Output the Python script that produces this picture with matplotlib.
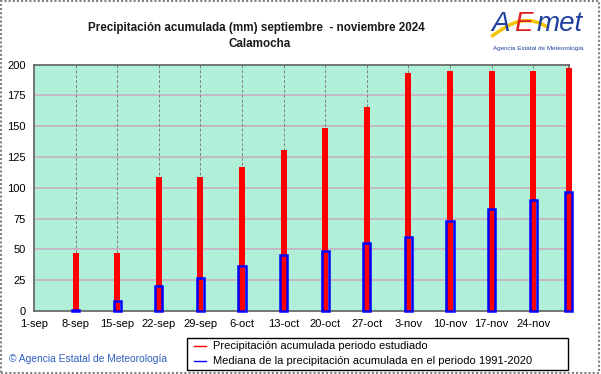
import matplotlib.pyplot as plt
import matplotlib.patches as mpatches
import numpy as np

plt.rcParams['font.family'] = ['Liberation Sans', 'DejaVu Sans']

# days since 1-sep for each weekly value
days = [7, 14, 21, 28, 35, 42, 49, 56, 63, 70, 77, 84, 90]
acumulada = [47, 47, 109, 109, 117, 131, 148.5, 166, 193.5, 195, 195, 195, 197]
mediana = [1, 8, 20, 26.5, 36.5, 45, 49, 55.5, 60, 73, 83, 90, 96.5]
tick_days = [0, 7, 14, 21, 28, 35, 42, 49, 56, 63, 70, 77, 84]
tick_labels = ['1-sep', '8-sep', '15-sep', '22-sep', '29-sep', '6-oct', '13-oct',
               '20-oct', '27-oct', '3-nov', '10-nov', '17-nov', '24-nov']
y_ticks = [0, 25, 50, 75, 100, 125, 150, 175, 200]

fig = plt.figure(figsize=(6.01, 3.74), dpi=100)
fig.patch.set_facecolor('white')

# outer gray frame
fig.add_artist(mpatches.Rectangle((0.002, 0.003), 0.995, 0.993, transform=fig.transFigure,
                                  fill=False, edgecolor='#808080', lw=1.5, linestyle=(0, (1, 1))))

ax = fig.add_axes([0.0566, 0.169, 0.890, 0.658])
ax.set_facecolor('#b0f0d8')

# grid
for y in y_ticks[1:-1]:
    ax.axhline(y, color='#c8b2c4', lw=1.3, zorder=1)
for d in tick_days[1:] + [90]:
    ax.axvline(d, color='#808080', lw=0.7, linestyle=(0, (3, 2)), zorder=1)

ax.bar(days, acumulada, width=1.0, color='#ff0000', edgecolor='none', zorder=3, clip_on=False)
ax.bar(days, mediana, width=1.2, facecolor='none', edgecolor='#0000ff', lw=1.8, zorder=4, clip_on=False)

ax.set_xlim(0, 90)
ax.set_ylim(0, 200)
ax.set_xticks(tick_days)
ax.set_xticklabels(tick_labels, fontsize=8)
ax.set_yticks(y_ticks)
ax.set_yticklabels([str(v) for v in y_ticks], fontsize=8)
ax.tick_params(length=0, pad=6)
for s in ax.spines.values():
    s.set_color('#606060')
    s.set_linewidth(1.2)

# title
fig.text(0.427, 0.925, 'Precipitación acumulada (mm) septiembre  - noviembre 2024',
         ha='center', va='center', fontsize=8.4, fontweight='bold', color='#1a1a1a')
fig.text(0.432, 0.882, 'Calamocha', ha='center', va='center', fontsize=8.4,
         fontweight='bold', color='#1a1a1a')

# logo
fig.text(0.818, 0.935, 'A', fontsize=20, color='#2040a0', style='italic', va='center', ha='left')
fig.text(0.855, 0.935, 'E', fontsize=20, color='#e02020', style='italic', va='center', ha='left')
fig.text(0.893, 0.935, 'met', fontsize=20, color='#2040a0', style='italic', va='center', ha='left')
t = np.linspace(0, 1, 30)
fig.add_artist(plt.Line2D(0.82 + 0.09 * t, 0.905 + 0.04 * np.sin(np.pi * t * 0.8),
                          transform=fig.transFigure, color='#f5c400', lw=2.5))
fig.text(0.895, 0.87, 'Agencia Estatal de Meteorología', fontsize=4.5, color='#2040a0',
         ha='center', va='center')

# footer
fig.text(0.015, 0.04, '© Agencia Estatal de Meteorología', fontsize=7.4, color='#3060c0',
         ha='left', va='center')

# legend box
lx0, lx1, ly0, ly1 = 0.311, 0.945, 0.01, 0.097
fig.add_artist(mpatches.Rectangle((lx0, ly0), lx1 - lx0, ly1 - ly0, transform=fig.transFigure,
                                  fill=False, edgecolor='black', lw=1))
fig.add_artist(plt.Line2D([0.322, 0.343], [0.075, 0.075], transform=fig.transFigure,
                          color='#ff0000', lw=1))
fig.add_artist(plt.Line2D([0.322, 0.343], [0.035, 0.035], transform=fig.transFigure,
                          color='#0000ff', lw=1))
fig.text(0.355, 0.075, 'Precipitación acumulada periodo estudiado', fontsize=8,
         va='center', ha='left')
fig.text(0.355, 0.035, 'Mediana de la precipitación acumulada en el periodo 1991-2020',
         fontsize=8, va='center', ha='left')

fig.savefig('out.png', dpi=100)
